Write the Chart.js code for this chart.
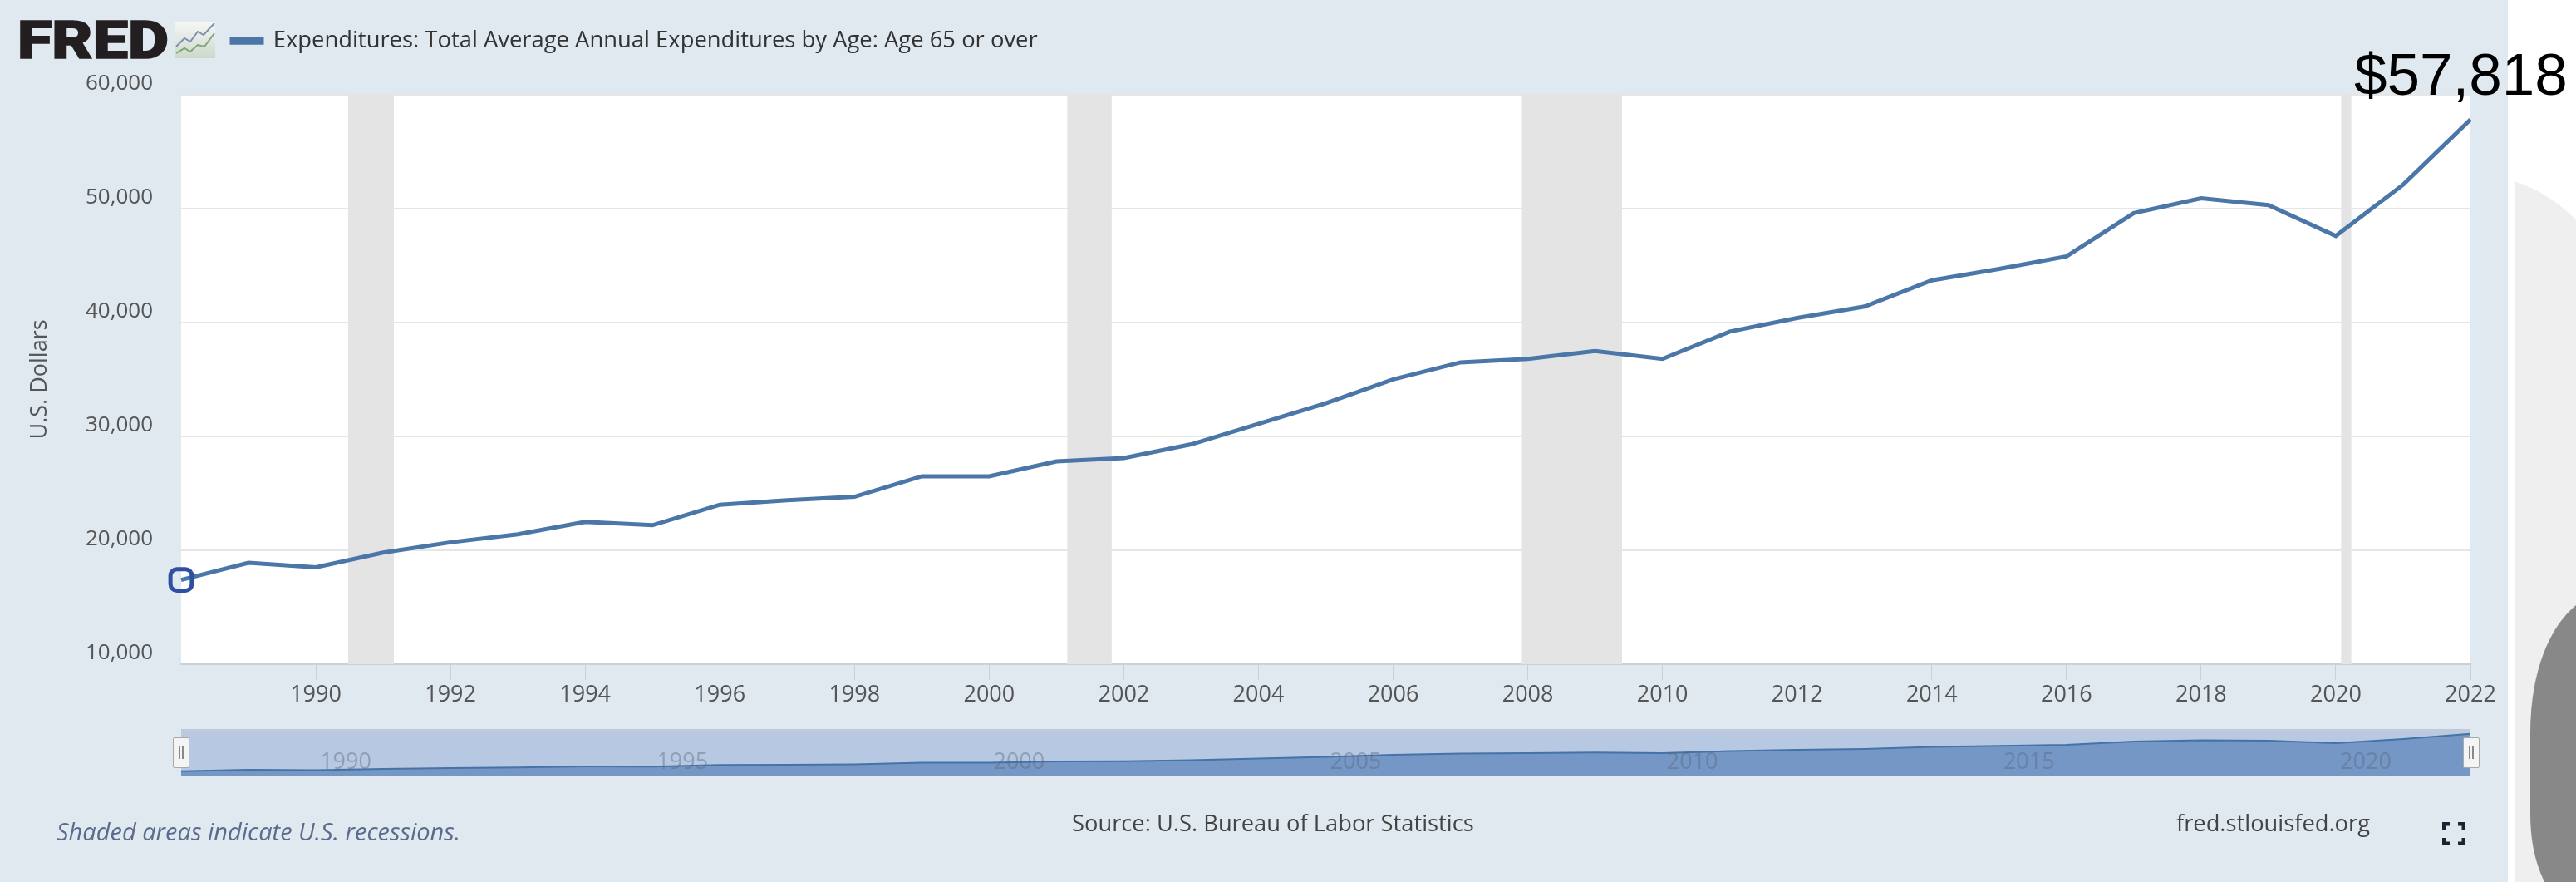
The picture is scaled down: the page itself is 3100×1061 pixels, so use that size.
<!DOCTYPE html>
<html>
<head>
<meta charset="utf-8">
<title>Expenditures: Total Average Annual Expenditures by Age: Age 65 or over</title>
<script src="https://cdn.jsdelivr.net/npm/chart.js@4/dist/chart.umd.min.js"></script>
<style>
html,body{margin:0;padding:0;background:#fff;overflow:hidden}
#page{position:relative;width:3100px;height:1061px;overflow:hidden;font-family:"Open Sans",sans-serif}
#panel{position:absolute;left:0;top:0;width:3018px;height:1061px;background:#e1e9f0}
#decor,#logo{position:absolute;left:0;top:0}
#main{position:absolute;left:0;top:0}
#nav{position:absolute;left:218px;top:877px}
.txt{position:absolute;white-space:nowrap;font-size:27px;line-height:30px}
.handle{position:absolute;top:887px;width:18px;height:35px;background:#f4f4f4;border:1px solid #a8a8a8;border-radius:2px;box-sizing:content-box}
.handle:before{content:"";position:absolute;left:6px;top:10px;width:2px;height:15px;background:#888;box-shadow:4px 0 0 #888}
</style>
</head>
<body>
<div id="page">
  <div id="panel"></div>
  <svg id="decor" width="3100" height="1061">
    <path d="M3026,218 Q3064,230 3100,264 L3100,1061 L3026,1061 Z" fill="#efefef"/>
    <path d="M3100,728 C3066,756 3045,812 3045,882 L3045,978 C3045,1015 3052,1040 3062,1061 L3100,1061 Z" fill="#888888"/>
  </svg>
  <canvas id="main" width="3100" height="1061"></canvas>
  <canvas id="nav" width="2755" height="57"></canvas>
  <div class="handle" style="left:208px"></div>
  <div class="handle" style="left:2964px"></div>
  <svg id="logo" width="300" height="90">
    <defs><linearGradient id="ig" x1="0" y1="0" x2="0" y2="1"><stop offset="0" stop-color="#f6f7f6"/><stop offset="1" stop-color="#cdd8cc"/></linearGradient></defs>
    <text x="21" y="70" font-family="Roboto" font-weight="900" font-size="63" fill="#231f20" stroke="#231f20" stroke-width="1.5" textLength="182" lengthAdjust="spacingAndGlyphs">FRED</text>
    <rect x="211" y="26" width="48" height="44" fill="url(#ig)"/>
    <polyline points="212,56 222,46 229,50 238,38 245,42 258,28" fill="none" stroke="#7f8fb0" stroke-width="2"/>
    <polyline points="212,64 222,58 229,62 238,54 246,56 258,40" fill="none" stroke="#7fa875" stroke-width="2"/>
  </svg>
  <div class="txt" style="left:68px;top:985px;font-size:29px;font-style:italic;color:#5b6b8c">Shaded areas indicate U.S. recessions.</div>
  <div class="txt" style="left:1290px;top:975px;font-size:27.3px;color:#444">Source: U.S. Bureau of Labor Statistics</div>
  <div class="txt" style="left:2619px;top:975px;font-size:27.3px;color:#444">fred.stlouisfed.org</div>
  <svg style="position:absolute;left:2939px;top:989px" width="28" height="28">
    <path d="M2,9V2H9 M19,2H26V9 M26,19V26H19 M9,26H2V19" fill="none" stroke="#1c2433" stroke-width="5"/>
  </svg>
</div>
<script>
const seriesName = "Expenditures: Total Average Annual Expenditures by Age: Age 65 or over";
const years = [1988,1989,1990,1991,1992,1993,1994,1995,1996,1997,1998,1999,2000,2001,2002,2003,2004,2005,2006,2007,2008,2009,2010,2011,2012,2013,2014,2015,2016,2017,2018,2019,2020,2021,2022];
const expenditures = [17400,18900,18500,19800,20700,21400,22500,22200,24000,24400,24700,26500,26500,27800,28100,29300,31100,32900,35000,36500,36800,37500,36800,39200,40400,41400,43700,44700,45800,49600,50900,50300,47600,52100,57818];
const xTicks = [1990,1992,1994,1996,1998,2000,2002,2004,2006,2008,2010,2012,2014,2016,2018,2020,2022];
const yTicks = [10000,20000,30000,40000,50000,60000];
const navLabels = [1990,1995,2000,2005,2010,2015,2020];
const recessionStart = [1990.48,2001.16,2007.9,2020.08];
const recessionEnd = [1991.16,2001.82,2009.4,2020.23];
const xMin = 1988, xMax = 2022, yMin = 10000, yMax = 60000;

const points = years.map((y,i)=>({x:y,y:expenditures[i]}));
const mainFont = '"Open Sans", sans-serif';

const framePlugin = {
  id:'frame',
  afterLayout(chart){
    chart.legend.left = 279 - 45.5;
    chart.legend.top = -10;
  },
  beforeDraw(chart){
    const {ctx,chartArea:a} = chart;
    ctx.save(); ctx.fillStyle='#ffffff';
    ctx.fillRect(a.left,a.top,a.right-a.left,a.bottom-a.top);
    ctx.restore();
  },
  beforeDatasetsDraw(chart){
    const {ctx,chartArea:a,scales:{x}} = chart;
    ctx.save(); ctx.fillStyle='#e4e4e4';
    recessionStart.forEach((s,i)=>{
      const l=x.getPixelForValue(s), r=x.getPixelForValue(recessionEnd[i]);
      ctx.fillRect(l,a.top,r-l,a.bottom-a.top);
    });
    ctx.restore();
  },
  afterDraw(chart){
    const {ctx} = chart;
    const last = expenditures[expenditures.length-1];
    ctx.save();
    ctx.font='71px "Liberation Sans", Arial, sans-serif';
    ctx.fillStyle='#000'; ctx.textAlign='left'; ctx.textBaseline='alphabetic';
    ctx.fillText('$'+last.toLocaleString('en-US'),2833,114);
    ctx.restore();
  }
};

new Chart(document.getElementById('main'),{
  type:'line',
  data:{datasets:[{
    label:seriesName,
    data:points,
    borderColor:'#4a76a8',
    backgroundColor:'#4572a7',
    borderWidth:5,
    tension:0,
    fill:false,
    clip:false,
    pointStyle:'rectRounded',
    pointRadius:c=>c.dataIndex===0?15:0,
    pointBorderColor:'#2f4fa3',
    pointBackgroundColor:'rgba(0,0,0,0)',
    pointBorderWidth:5
  }]},
  options:{
    responsive:false,animation:false,events:[],
    layout:{padding:{left:0,top:31,right:127,bottom:0}},
    plugins:{
      tooltip:{enabled:false},
      title:{display:false},
      legend:{
        display:true,position:'top',align:'start',
        labels:{boxWidth:36,boxHeight:4,padding:45.5,color:'#333',font:{family:mainFont,size:27.4,lineHeight:1}}
      }
    },
    scales:{
      x:{
        type:'linear',min:xMin,max:xMax,
        afterBuildTicks:a=>{a.ticks=xTicks.map(v=>({value:v}));},
        afterFit:s=>{s.height=262;},
        grid:{drawOnChartArea:false,drawTicks:true,tickLength:19,color:'#c8d0da',lineWidth:1},
        border:{color:'#c8d0da',width:2},
        ticks:{color:'#555',padding:2,maxRotation:0,autoSkip:false,font:{family:mainFont,size:27},callback:v=>String(v)}
      },
      y:{
        type:'linear',min:yMin,max:yMax,
        afterBuildTicks:a=>{a.ticks=yTicks.map(v=>({value:v}));},
        afterFit:s=>{s.width=218;},
        grid:{drawTicks:false,color:'#e6e6e6',lineWidth:2},
        border:{display:false},
        title:{display:true,text:'U.S. Dollars',color:'#555',font:{family:mainFont,size:27},padding:{top:32,bottom:0}},
        ticks:{color:'#555',padding:34,align:'end',font:{family:mainFont,size:26},callback:v=>v.toLocaleString('en-US')}
      }
    }
  },
  plugins:[framePlugin]
});

const navPlugin = {
  id:'navLabels',
  beforeDraw(chart){
    const {ctx,chartArea:a} = chart;
    const g = ctx.createLinearGradient(0,a.top,0,a.bottom);
    g.addColorStop(0,'#bfcadb'); g.addColorStop(0.2,'#b7c9e2'); g.addColorStop(1,'#b7c9e2');
    ctx.save(); ctx.fillStyle=g; ctx.fillRect(a.left,a.top,a.right-a.left,a.bottom-a.top); ctx.restore();
  },
  afterDatasetsDraw(chart){
    const {ctx,scales:{x}} = chart;
    ctx.save();
    ctx.font='27px '+mainFont; ctx.fillStyle='rgba(90,100,120,0.42)';
    ctx.textAlign='center'; ctx.textBaseline='middle';
    navLabels.forEach(v=>ctx.fillText(String(v),x.getPixelForValue(v)+36,40));
    ctx.restore();
  }
};

new Chart(document.getElementById('nav'),{
  type:'line',
  data:{datasets:[{
    data:points,
    borderColor:'#4572a7',borderWidth:2,
    backgroundColor:'#7497c6',
    fill:'start',tension:0,pointRadius:0,clip:false
  }]},
  options:{
    responsive:false,animation:false,events:[],
    layout:{padding:0},
    plugins:{legend:{display:false},tooltip:{enabled:false}},
    scales:{
      x:{type:'linear',min:xMin,max:xMax,display:false},
      y:{type:'linear',min:11700,max:63000,display:false}
    }
  },
  plugins:[navPlugin]
});
</script>
</body>
</html>
